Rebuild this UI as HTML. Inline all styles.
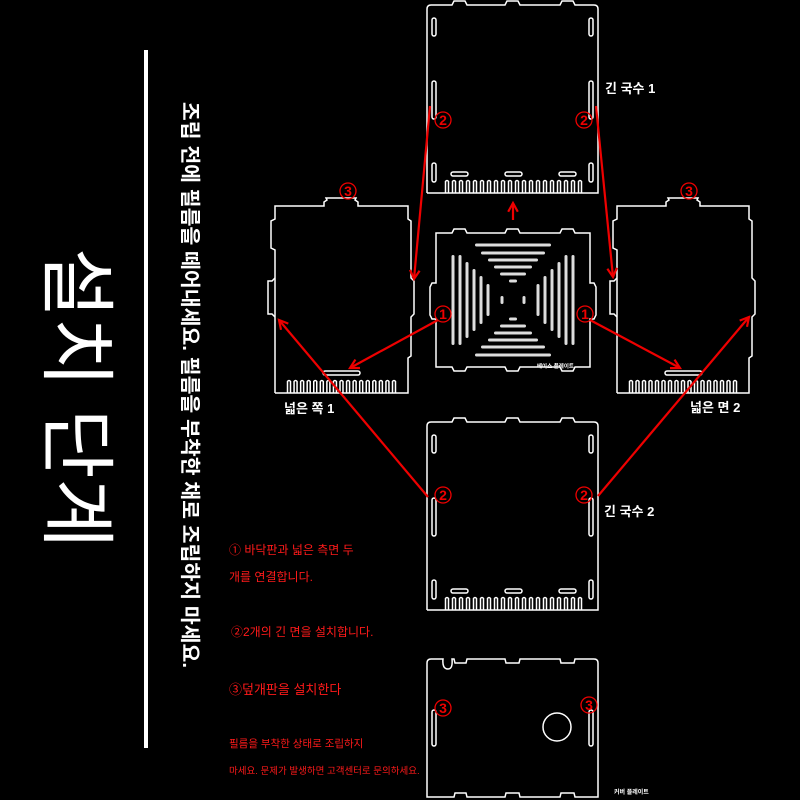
<!DOCTYPE html>
<html><head><meta charset="utf-8"><style>
html,body{margin:0;padding:0;background:#000;width:800px;height:800px;overflow:hidden}
svg{display:block}
</style></head><body>
<svg id="s" width="800" height="800" viewBox="0 0 800 800" xmlns="http://www.w3.org/2000/svg" font-family="Liberation Sans, Noto Sans CJK KR, sans-serif">
<rect width="800" height="800" fill="#000"/>
<rect x="144" y="50" width="4" height="698" fill="#fff"/>
<text transform="translate(50,398) rotate(90)" text-anchor="middle" font-size="76" fill="#fff" font-family="Liberation Sans, Noto Sans CJK KR, sans-serif">설치 단계</text>
<text transform="translate(183,385) rotate(90)" text-anchor="middle" font-size="20.5" fill="#fff" font-weight="bold" font-family="Liberation Sans, Noto Sans CJK KR, sans-serif">조립 전에 필름을 떼어내세요. 필름을 부착한 채로 조립하지 마세요.</text>
<g id="g" fill="none" stroke="#fff" stroke-width="1.5"></g>
<g fill="#ff1a1a" font-family="Liberation Sans, Noto Sans CJK KR, sans-serif">
<text x="229" y="554" font-size="12">① 바닥판과 넓은 측면 두</text>
<text x="229" y="581" font-size="12">개를 연결합니다.</text>
<text x="231" y="636" font-size="12">②2개의 긴 면을 설치합니다.</text>
<text x="229" y="694" font-size="13">③덮개판을 설치한다</text>
<text x="229" y="747" font-size="10.5">필름을 부착한 상태로 조립하지</text>
<text x="229" y="774" font-size="9.5">마세요. 문제가 발생하면 고객센터로 문의하세요.</text>
</g>
<g fill="#fff" font-family="Liberation Sans, Noto Sans CJK KR, sans-serif" font-weight="bold">
<text x="605" y="93" font-size="13">긴 국수 1</text>
<text x="604" y="516" font-size="13">긴 국수 2</text>
<text x="284" y="413" font-size="13">넓은 쪽 1</text>
<text x="690" y="412" font-size="13">넓은 면 2</text>
<text x="537" y="368" font-size="5.5">베이스 플레이트</text>
<text x="614" y="794" font-size="6">커버 플레이트</text>
</g>
<g id="r" stroke="#e00" stroke-width="2.2" fill="none"></g>
</svg>
<script>
var g=document.getElementById('g'),r=document.getElementById('r'),NS='http://www.w3.org/2000/svg';
function el(p,t,a){var e=document.createElementNS(NS,t);for(var k in a)e.setAttribute(k,a[k]);p.appendChild(e);return e;}
function slot(x,y,w,h){el(g,'rect',{x:x,y:y,width:w,height:h,rx:Math.min(w,h)/2});}
function teeth(x0,x1,y0,y1,n){var st=(x1-x0)/(n-1);for(var i=0;i<n;i++){var x=x0+i*st;el(g,'path',{d:'M'+(x-1.5)+','+y1+' L'+(x-1.5)+','+(y0+1.5)+' Q'+x+','+(y0-0.5)+' '+(x+1.5)+','+(y0+1.5)+' L'+(x+1.5)+','+y1});}}
function topEdge(x0,x1,y,tabs){var d='';tabs.forEach(function(t){d+=' L'+t[0]+','+y+' L'+(t[0]+2)+','+(y-4)+' L'+(t[1]-2)+','+(y-4)+' L'+t[1]+','+y;});return d;}
function longPanel(y0){
 var x0=427,x1=598,h=188;var yb=y0+h;
 var d='M'+x0+','+yb+' L'+x0+','+(y0+4)+' Q'+x0+','+y0+' '+(x0+4)+','+y0+topEdge(x0,x1,y0,[[452,467],[505,520],[560,575]])+' L'+(x1-4)+','+y0+' Q'+x1+','+y0+' '+x1+','+(y0+4)+' L'+x1+','+yb+' L'+x0+','+yb;
 el(g,'path',{d:d});
 [[13,18],[76,38],[158,19]].forEach(function(s){slot(432,y0+s[0],4,s[1]);slot(589,y0+s[0],4,s[1]);});
 [451,505,559].forEach(function(x){slot(x,y0+167,17,4);});
 teeth(447,580,y0+175,yb,20);
}
longPanel(5);longPanel(422);
function sidePanel(x0,x1,cx){
 var y0=206,yb=393;
 var d='M'+x0+','+yb+' L'+x0+','+(y0+44)+' L'+(x0-4)+','+(y0+42)+' L'+(x0-4)+','+(y0+15)+' L'+x0+','+(y0+13)+' L'+x0+','+y0+
 ' L'+(cx-17)+','+y0+' L'+(cx-17)+','+(y0-4)+' L'+(cx-14)+','+(y0-6)+' L'+(cx-15)+','+(y0-8)+' L'+(cx+15)+','+(y0-8)+' L'+(cx+14)+','+(y0-6)+' L'+(cx+17)+','+(y0-4)+' L'+(cx+17)+','+y0+
 ' L'+x1+','+y0+' L'+x1+','+(y0+13)+' L'+(x1+3)+','+(y0+15)+' L'+(x1+3)+','+(y0+72)+' L'+(x1+6)+','+(y0+75)+' L'+(x1+6)+','+(y0+108)+' L'+(x1+3)+','+(y0+111)+' L'+(x1+3)+','+(y0+150)+' L'+x1+','+(y0+152)+' L'+x1+','+yb+' L'+x0+','+yb;
 el(g,'path',{d:d});
 el(g,'path',{d:'M'+x0+','+(y0+72)+' L'+(x0-3)+','+(y0+75)+' L'+(x0-7)+','+(y0+75)+' L'+(x0-7)+','+(y0+108)+' L'+(x0-3)+','+(y0+108)+' L'+x0+','+(y0+111)});
 slot(cx-18,y0+165,37,4);
 teeth(x0+14,x1-14,y0+174,yb,17);
}
sidePanel(275,408,341);sidePanel(617,749,683);
(function(){
 var x0=436,x1=590,y0=233,yb=367;
 var d='M'+x0+','+y0+topEdge(x0,x1,y0,[[452,467],[505,520],[560,575]])+' L'+x1+','+y0+' L'+x1+','+(y0+50)+' L'+(x1+4)+','+(y0+50)+' L'+(x1+6)+','+(y0+54)+' L'+(x1+6)+','+(y0+82)+' L'+(x1+4)+','+(y0+86)+' L'+x1+','+(y0+86)+' L'+x1+','+yb;
 d+=' L575,'+yb+' L573,'+(yb+4)+' L562,'+(yb+4)+' L560,'+yb+' L520,'+yb+' L518,'+(yb+4)+' L507,'+(yb+4)+' L505,'+yb+' L467,'+yb+' L465,'+(yb+4)+' L454,'+(yb+4)+' L452,'+yb+' L'+x0+','+yb;
 d+=' L'+x0+','+(y0+86)+' L'+(x0-4)+','+(y0+86)+' L'+(x0-6)+','+(y0+82)+' L'+(x0-6)+','+(y0+54)+' L'+(x0-4)+','+(y0+50)+' L'+x0+','+(y0+50)+' Z';
 el(g,'path',{d:d});
 var c=513,cy=300;
 var H=[[55,38],[47,32],[40,25],[33,19],[26,13],[19,4]];
 H.forEach(function(h){el(g,'rect',{x:c-h[1],y:cy-h[0]-1.5,width:2*h[1],height:3,rx:1.5,fill:'#ddd',stroke:'none'});el(g,'rect',{x:c-h[1],y:cy+h[0]-1.5,width:2*h[1],height:3,rx:1.5,fill:'#ddd',stroke:'none'});});
 var V=[[60,45],[53,45],[46,38],[39,31],[32,24],[25,16],[11,4]];
 V.forEach(function(v){el(g,'rect',{x:c-v[0]-1.5,y:cy-v[1],width:3,height:2*v[1],rx:1.5,fill:'#ddd',stroke:'none'});el(g,'rect',{x:c+v[0]-1.5,y:cy-v[1],width:3,height:2*v[1],rx:1.5,fill:'#ddd',stroke:'none'});});
})();
(function(){
 var x0=427,x1=598,y0=659,yb=797;
 var d='M'+x0+','+yb+' L'+x0+','+(y0+4)+' Q'+x0+','+y0+' '+(x0+4)+','+y0+' L443,'+y0+' Q442,'+(y0+10)+' 448,'+(y0+10)+' Q453,'+(y0+10)+' 452,'+y0+' L454,'+y0+' L455,'+(y0+4)+' L466,'+(y0+4)+' L467,'+y0+' L505,'+y0+' L506,'+(y0+4)+' L519,'+(y0+4)+' L520,'+y0+' L560,'+y0+' L561,'+(y0+4)+' L574,'+(y0+4)+' L575,'+y0+' L'+(x1-4)+','+y0+' Q'+x1+','+y0+' '+x1+','+(y0+4)+' L'+x1+','+yb+' L575,'+yb+' L574,'+(yb-4)+' L561,'+(yb-4)+' L560,'+yb+' L520,'+yb+' L519,'+(yb-4)+' L506,'+(yb-4)+' L505,'+yb+' L467,'+yb+' L466,'+(yb-4)+' L455,'+(yb-4)+' L454,'+yb+' Z';
 el(g,'path',{d:d});
 slot(432,710,4,36);slot(589,710,4,36);
 el(g,'circle',{cx:557,cy:727,r:14});
})();
function arrow(x1,y1,x2,y2){el(r,'line',{x1:x1,y1:y1,x2:x2,y2:y2});var a=Math.atan2(y2-y1,x2-x1),L=10,s=0.5;
 el(r,'polyline',{points:(x2-L*Math.cos(a-s))+','+(y2-L*Math.sin(a-s))+' '+x2+','+y2+' '+(x2-L*Math.cos(a+s))+','+(y2-L*Math.sin(a+s))});}
arrow(430,106,414,279);arrow(596,106,613,277);
arrow(438,320,350,368);arrow(590,320,680,368);
arrow(513,220,513,203);
arrow(428,497,279,320);arrow(598,496,749,317);
function num(x,y,t){el(r,'circle',{cx:x,cy:y,r:8,'stroke-width':1.3});var e=el(r,'text',{x:x,y:y+5,'text-anchor':'middle','font-size':14,fill:'#e00',stroke:'none','font-weight':'bold'});e.textContent=t;}
num(443,120,'2');num(584,120,'2');num(443,495,'2');num(584,495,'2');
num(443,314,'1');num(585,314,'1');
num(348,191,'3');num(689,191,'3');num(443,708,'3');num(589,705,'3');
</script>
</body></html>
